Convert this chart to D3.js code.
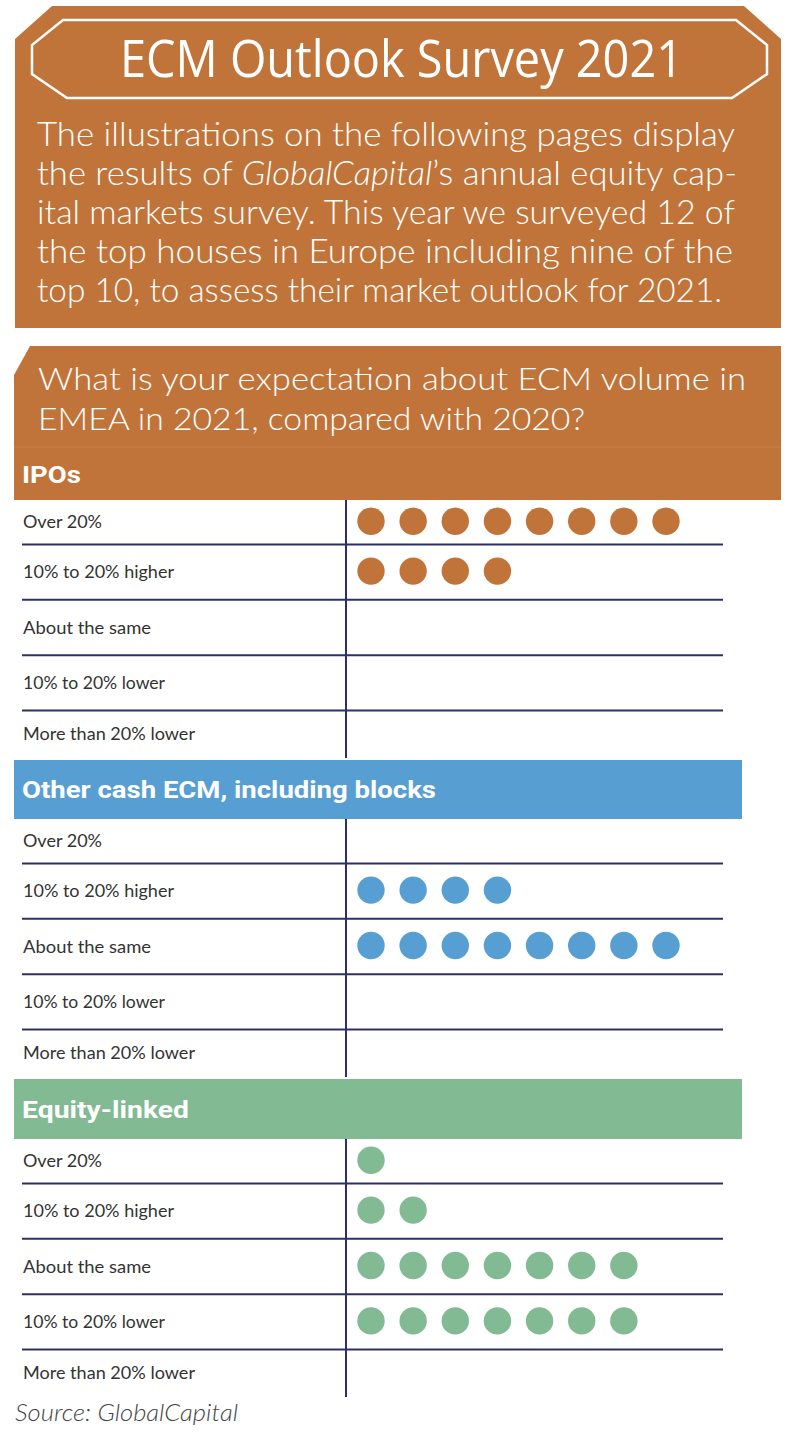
<!DOCTYPE html>
<html>
<head>
<meta charset="utf-8">
<script src="https://cdn.jsdelivr.net/npm/d3@7"></script>
<style>
  html, body { margin: 0; padding: 0; background: #ffffff; }
  svg { display: block; }
</style>
</head>
<body>
<div id="chart"></div>
<script>
// ---------------- DATA ----------------
const titleText = "ECM Outlook Survey 2021";
const introLines = [
  ["The illustrations on the following pages display"],
  ["the results of ", "GlobalCapital", "\u2019s annual equity cap-"],
  ["ital markets survey. This year we surveyed 12 of"],
  ["the top houses in Europe including nine of the"],
  ["top 10, to assess their market outlook for 2021."]
];
const questionLines = [
  "What is your expectation about ECM volume in",
  "EMEA in 2021, compared with 2020?"
];
const sections = ["IPOs", "Other cash ECM, including blocks", "Equity-linked"];
const responses = ["Over 20%", "10% to 20% higher", "About the same", "10% to 20% lower", "More than 20% lower"];
const ipoCounts = [8, 4, 0, 0, 0];
const otherCashCounts = [0, 4, 8, 0, 0];
const equityLinkedCounts = [1, 2, 7, 7, 0];
const sourceText = "Source: GlobalCapital";

// ---------------- STYLE / LAYOUT ----------------
const W = 800, H = 1442;
const orange = "#C17439", blue = "#579FD3", green = "#81BA93";
const lineColor = "#2D3068", labelColor = "#333333";
const sectionColors = [orange, blue, green];
const sectionCounts = [ipoCounts, otherCashCounts, equityLinkedCounts];
const bandTops = [447, 760, 1079];
const bandBottoms = [500, 819, 1139];

const svg = d3.select("#chart").append("svg")
  .attr("width", W).attr("height", H);

function fitText(sel, target) {
  sel.each(function() {
    const w = this.getComputedTextLength();
    if (Math.abs(w - target) > 1) {
      d3.select(this).attr("textLength", target).attr("lengthAdjust", "spacingAndGlyphs");
    }
  });
}

// Title box
svg.append("path")
  .attr("d", "M15,39 L52,6 L744,6 L781,39 L781,328 L15,328 Z")
  .attr("fill", orange);
svg.append("path")
  .attr("d", "M63,20 L736,20 L767,45 L767,74 L732,98 L67,98 L32,74 L32,45 Z")
  .attr("fill", "none").attr("stroke", "#ffffff").attr("stroke-width", 2.5);
svg.append("text")
  .attr("x", 120).attr("y", 77)
  .attr("font-family", "'Open Sans', sans-serif")
  .attr("font-size", 51).attr("fill", "#ffffff")
  .text(titleText)
  .call(fitText, 563);

// Intro text
const introEnds = [735, 737, 735, 733, 722];
const introBase = [146, 184.5, 223.5, 262.5, 301.5];
introLines.forEach((parts, i) => {
  const t = svg.append("text")
    .attr("x", 37).attr("y", introBase[i])
    .attr("font-family", "Lato, sans-serif")
    .attr("font-weight", 300)
    .attr("font-size", 34).attr("fill", "#ffffff");
  parts.forEach((p, j) => {
    t.append("tspan").attr("font-style", (parts.length === 3 && j === 1) ? "italic" : "normal").text(p);
  });
  fitText(t, introEnds[i] - 37);
});

// Question + IPO banner shape
svg.append("path")
  .attr("d", "M14,375 L30,346 L781,346 L781,500 L14,500 Z")
  .attr("fill", orange);
svg.append("line")
  .attr("x1", 14).attr("x2", 781).attr("y1", 447).attr("y2", 447)
  .attr("stroke", "#ffffff").attr("stroke-opacity", 0.1).attr("stroke-width", 1);
const qEnds = [746, 585];
const qBase = [390, 430];
questionLines.forEach((q, i) => {
  svg.append("text")
    .attr("x", 38).attr("y", qBase[i])
    .attr("font-family", "Lato, sans-serif").attr("font-weight", 300)
    .attr("font-size", 32).attr("fill", "#ffffff")
    .text(q)
    .call(fitText, qEnds[i] - 38);
});

// Other bands
[1, 2].forEach(k => {
  svg.append("rect")
    .attr("x", 14).attr("y", bandTops[k])
    .attr("width", 742 - 14).attr("height", bandBottoms[k] - bandTops[k])
    .attr("fill", sectionColors[k]);
});

// Section labels
const sectionLabelWidths = [59, 414, 167];
const sectionLabelBase = [483, 798, 1118];
sections.forEach((s, k) => {
  svg.append("text")
    .attr("x", 22).attr("y", sectionLabelBase[k])
    .attr("font-family", "Roboto, 'Open Sans', sans-serif").attr("font-weight", 700)
    .attr("font-size", 23).attr("fill", "#ffffff")
    .text(s)
    .call(fitText, sectionLabelWidths[k]);
});

// Rows
const labelWidths = {
  "Over 20%": 79, "10% to 20% higher": 151, "About the same": 128,
  "10% to 20% lower": 142, "More than 20% lower": 172
};
const xDot = d3.scaleLinear().domain([0, 7]).range([371, 666]);
const dotR = 13.7;

sections.forEach((s, k) => {
  const B = bandBottoms[k];
  const yRow = d3.scaleBand().domain(responses).range([B - 11, B + 266]).paddingInner(0);
  const end = B + 258;
  const g = svg.append("g");

  g.selectAll("line.sep").data(responses.slice(1)).join("line")
    .attr("class", "sep")
    .attr("x1", 22).attr("x2", 723)
    .attr("y1", d => yRow(d)).attr("y2", d => yRow(d))
    .attr("stroke", lineColor).attr("stroke-width", 2);
  g.append("line")
    .attr("x1", 346).attr("x2", 346).attr("y1", B).attr("y2", end)
    .attr("stroke", lineColor).attr("stroke-width", 2);

  const center = d => {
    const top = Math.max(yRow(d), B);
    const bot = Math.min(yRow(d) + yRow.bandwidth(), end);
    return (top + bot) / 2;
  };

  g.selectAll("text.lab").data(responses).join("text")
    .attr("class", "lab")
    .attr("x", 23).attr("y", d => center(d) + 6)
    .attr("font-family", "Lato, sans-serif")
    .attr("font-size", 16.5).attr("fill", labelColor)
    .text(d => d)
    .each(function(d) { fitText(d3.select(this), labelWidths[d]); });

  const dots = [];
  responses.forEach((r, i) => {
    for (let j = 0; j < sectionCounts[k][i]; j++) dots.push({ r, j });
  });
  g.selectAll("circle").data(dots).join("circle")
    .attr("cx", d => xDot(d.j))
    .attr("cy", d => center(d.r) - 1)
    .attr("r", dotR)
    .attr("fill", sectionColors[k]);
});

// Source
svg.append("text")
  .attr("x", 15).attr("y", 1421)
  .attr("font-family", "Lato, sans-serif").attr("font-weight", 300)
  .attr("font-style", "italic")
  .attr("font-size", 23).attr("fill", "#444444")
  .text(sourceText)
  .call(fitText, 223);
</script>
</body>
</html>
